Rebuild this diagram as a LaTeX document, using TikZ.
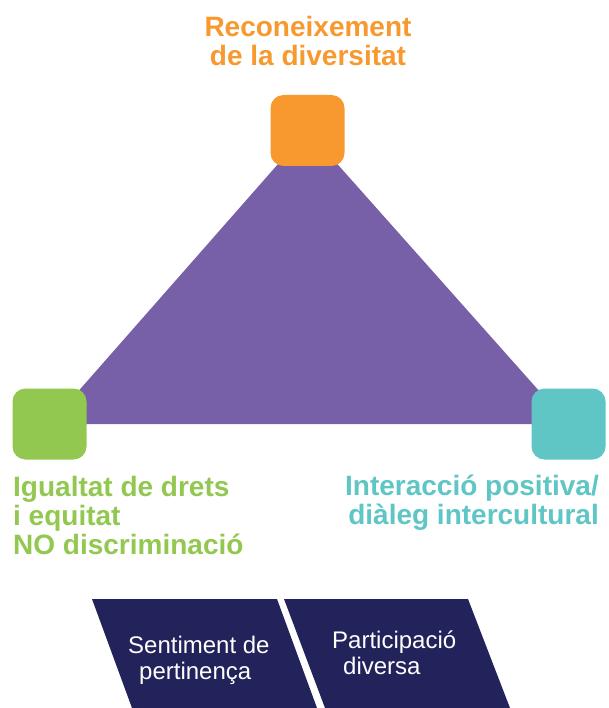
\documentclass[tikz,border=0pt]{standalone}
\usepackage{fontspec}
\setmainfont{Liberation Sans}
\usetikzlibrary{backgrounds}
\definecolor{orng}{HTML}{F7992E}
\definecolor{purp}{HTML}{7860A8}
\definecolor{grn}{HTML}{92C850}
\definecolor{teal}{HTML}{5FC5C5}
\definecolor{navy}{HTML}{22235A}
\tikzstyle{corner}=[rounded corners=13pt, minimum width=74pt, minimum height=71pt,
                inner sep=0, draw=none]
\tikzstyle{lbl}=[inner sep=0, align=left, font=\fontsize{28}{29}\selectfont\bfseries]
\tikzstyle{btxt}=[inner sep=0, align=left, text=white, font=\fontsize{24}{26.5}\selectfont]
\newcommand{\ind}{\hspace*{11pt}}

\begin{document}
\begin{tikzpicture}[x=1pt,y=-1pt]
\path[use as bounding box] (0,0) rectangle (608,708);
\node[corner, fill=orng] (rec) at (307.5,130.5) {};
\node[corner, fill=grn] (igu) at (49.5,424) {};
\node[corner, fill=teal] (int) at (568.5,424) {};
\begin{scope}[on background layer]
\fill[purp] (rec.center) -- (igu.center) -- (int.center) -- cycle;
\end{scope}
\node[lbl, text=orng, align=center, anchor=north] (reclbl) at (308,16)
  {Reconeixement\\de la diversitat};
\node[lbl, text=grn, anchor=north west] (igulbl) at (13,476)
  {Igualtat de drets\\i equitat\\NO discriminació};
\node[lbl, text=teal, align=right, anchor=north east] (intlbl) at (599,475)
  {Interacció positiva/\\diàleg intercultural};
% bandes inferiors
\fill[navy] (92,599) -- (277,599) -- (317,708) -- (132,708) -- cycle;
\fill[navy] (284,599) -- (468,599) -- (510,708) -- (325,708) -- cycle;
\node[btxt, anchor=north west] (sent) at (128,635.5) {Sentiment de\\\ind pertinença};
\node[btxt, anchor=north west] (part) at (332,630.5) {Participació\\\ind diversa};
\end{tikzpicture}
\end{document}
